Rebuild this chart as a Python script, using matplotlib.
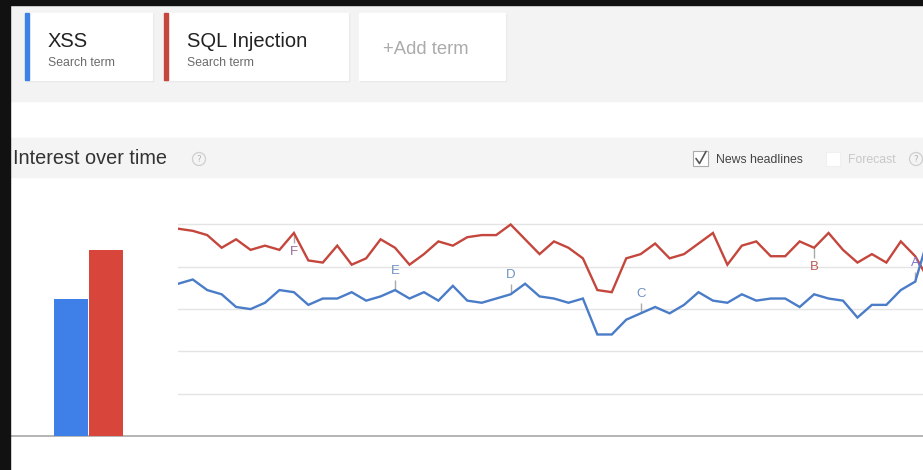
import matplotlib
matplotlib.use("Agg")
import matplotlib.pyplot as plt
from matplotlib.patches import Rectangle, Circle

# ---- data -------------------------------------------------------------
terms = ["XSS", "SQL Injection"]
average_interest = [65, 88]

xss_interest = [72, 74, 69, 67, 61, 60, 63, 69, 68, 62, 65, 65, 68, 64, 66,
                69, 65, 68, 64, 71, 64, 63, 65, 67, 72, 66, 65, 63, 65, 48,
                48, 55, 58, 61, 58, 62, 68, 64, 63, 67, 64, 65, 65, 61, 67,
                65, 64, 56, 62, 62, 69, 73, 96]
sqli_interest = [98, 97, 95, 89, 93, 88, 90, 88, 96, 83, 82, 90, 81, 84, 93,
                 89, 81, 86, 92, 90, 94, 95, 95, 100, 93, 86, 92, 89, 84, 69,
                 68, 84, 86, 91, 84, 86, 91, 96, 81, 90, 92, 85, 85, 92, 89,
                 96, 88, 82, 86, 82, 92, 85, 73]

# news headline markers: (letter, point index, series)
headline_letters = ["F", "E", "D", "C", "B", "A"]
headline_index = [8, 15, 23, 32, 44, 51]
headline_series = ["sqli", "xss", "xss", "xss", "sqli", "xss"]

# ---- styling ----------------------------------------------------------
W, H = 923, 470
line_blue, line_red = "#4a7cc8", "#c4463c"
bar_blue, bar_red = "#3f80e8", "#d8453a"
letter_colors = {"F": "#9a6a98", "E": "#6f92c2", "D": "#6f92c2",
                 "C": "#6f92c2", "B": "#b65c56", "A": "#7d78cc"}
sans = ["Liberation Sans", "DejaVu Sans"]

fig = plt.figure(figsize=(W / 100, H / 100), dpi=100)
fig.patch.set_facecolor("white")

# page-level canvas in pixel units
bg = fig.add_axes([0, 0, 1, 1])
bg.set_xlim(0, W)
bg.set_ylim(H, 0)
bg.axis("off")

# dark frame strips
bg.add_patch(Rectangle((0, 0), W, 5, color="#111111", zorder=5))
bg.add_patch(Rectangle((0, 0), 10, H, color="#111111", zorder=5))

# header with search-term cards
bg.add_patch(Rectangle((10, 5), W - 10, 96, color="#f3f3f3", zorder=1))
cards = [(25, 152, bar_blue), (164, 348, "#c4463c"), (359, 505, None)]
for x0, x1, c in cards:
    bg.add_patch(Rectangle((x0 + 1, 14), x1 - x0, 67, color="#e6e6e6", zorder=2))
    bg.add_patch(Rectangle((x0, 13), x1 - x0, 67, color="white", zorder=3))
    if c is not None:
        bg.add_patch(Rectangle((x0, 13), 3.5, 67, color=c, zorder=4))

bg.text(48, 47, terms[0], fontsize=14.5, color="#222222", family=sans,
        va="baseline", zorder=6)
bg.text(48, 65.5, "Search term", fontsize=8.8, color="#6a6a6a",
        family=sans, va="baseline", zorder=6)
bg.text(187, 47, terms[1], fontsize=14.5, color="#222222", family=sans,
        va="baseline", zorder=6)
bg.text(187, 65.5, "Search term", fontsize=8.8, color="#6a6a6a",
        family=sans, va="baseline", zorder=6)
bg.text(383, 53.5, "+Add term", fontsize=13.3, color="#ababab",
        family=sans, va="baseline", zorder=6)

# "Interest over time" band
bg.add_patch(Rectangle((10, 138), W - 10, 39, color="#f4f4f4", zorder=1))
bg.text(13, 164.5, "Interest over time", fontsize=14.3, color="#333333",
        family=sans, va="baseline", zorder=6)


def help_icon(x, y):
    bg.add_patch(Circle((x, y), 6.5, facecolor="none", edgecolor="#cfcfcf",
                        lw=0.9, zorder=6))
    bg.text(x, y + 0.5, "?", fontsize=6.5, color="#b5b5b5", ha="center",
            va="center", zorder=7)


help_icon(199, 159)
help_icon(916, 159)

# "News headlines" checkbox (checked)
bg.add_patch(Rectangle((693, 151), 15, 15, facecolor="white",
                       edgecolor="#aaaaaa", lw=0.8, zorder=6))
bg.plot([696, 699.5, 706], [158.5, 163.5, 151.5], color="#555555", lw=1.2,
        zorder=7, solid_capstyle="round")
bg.text(716, 163, "News headlines", fontsize=8.8, color="#444444",
        family=sans, va="baseline", zorder=6)

# "Forecast" checkbox (disabled)
bg.add_patch(Rectangle((826, 152), 14, 14, facecolor="white",
                       edgecolor="#f0f0f0", lw=0.8, zorder=6))
bg.text(848, 163, "Forecast", fontsize=8.8, color="#c8c8c8",
        family=sans, va="baseline", zorder=6)

# ---- chart geometry ----------------------------------------------------
y_base, px_per_unit = 436.0, 2.115      # value 0 at baseline, px per point
y_max = 110
top_px = y_base - y_max * px_per_unit
x_first, step = 178.3, 14.45            # first point and point spacing (px)


def fig_rect(x0, x1):
    return [x0 / W, (H - y_base) / H, (x1 - x0) / W, (y_base - top_px) / H]


# baseline across the chart
bg.plot([10, W], [y_base, y_base], color="#a8a8a8", lw=1.2, zorder=2)

# average-interest bars
bar_ax = fig.add_axes(fig_rect(10, x_first))
bar_ax.set_ylim(0, y_max)
unit = 35.2
left = -(71.2 - 10) / unit
bar_ax.set_xlim(left, left + (x_first - 10) / unit)
bar_ax.bar([0, 1], average_interest, width=0.97, color=[bar_blue, bar_red],
           edgecolor="none", zorder=3)
bar_ax.axis("off")

# interest-over-time lines
ax = fig.add_axes(fig_rect(x_first, W))
ax.set_ylim(0, y_max)
ax.set_xlim(0, (W - x_first) / step)
ax.axis("off")
for v in [20, 40, 60, 80, 100]:
    ax.axhline(v, color="#e4e4e4", lw=1.0, zorder=1)

xs = list(range(len(xss_interest)))
ax.plot(xs, sqli_interest, color=line_red, lw=1.7, zorder=3,
        solid_joinstyle="miter")
ax.plot(xs, xss_interest, color=line_blue, lw=1.7, zorder=3,
        solid_joinstyle="miter")

tick_len = 10 / px_per_unit
for letter, i, s in zip(headline_letters, headline_index, headline_series):
    if s == "xss":
        v = xss_interest[i]
        ax.vlines(i, v, v + tick_len, color="#aaaaaa", lw=1.0, zorder=2)
        off = 19
    else:
        v = sqli_interest[i]
        ax.vlines(i, v - tick_len, v, color="#aaaaaa", lw=1.0, zorder=2)
        off = -19
    ax.annotate(letter, (i, v), xytext=(0, off * 0.72),
                textcoords="offset points", ha="center", va="center",
                fontsize=9.5, color=letter_colors[letter],
                family=sans, zorder=4)

fig.savefig("out.png", dpi=100, facecolor="white")
